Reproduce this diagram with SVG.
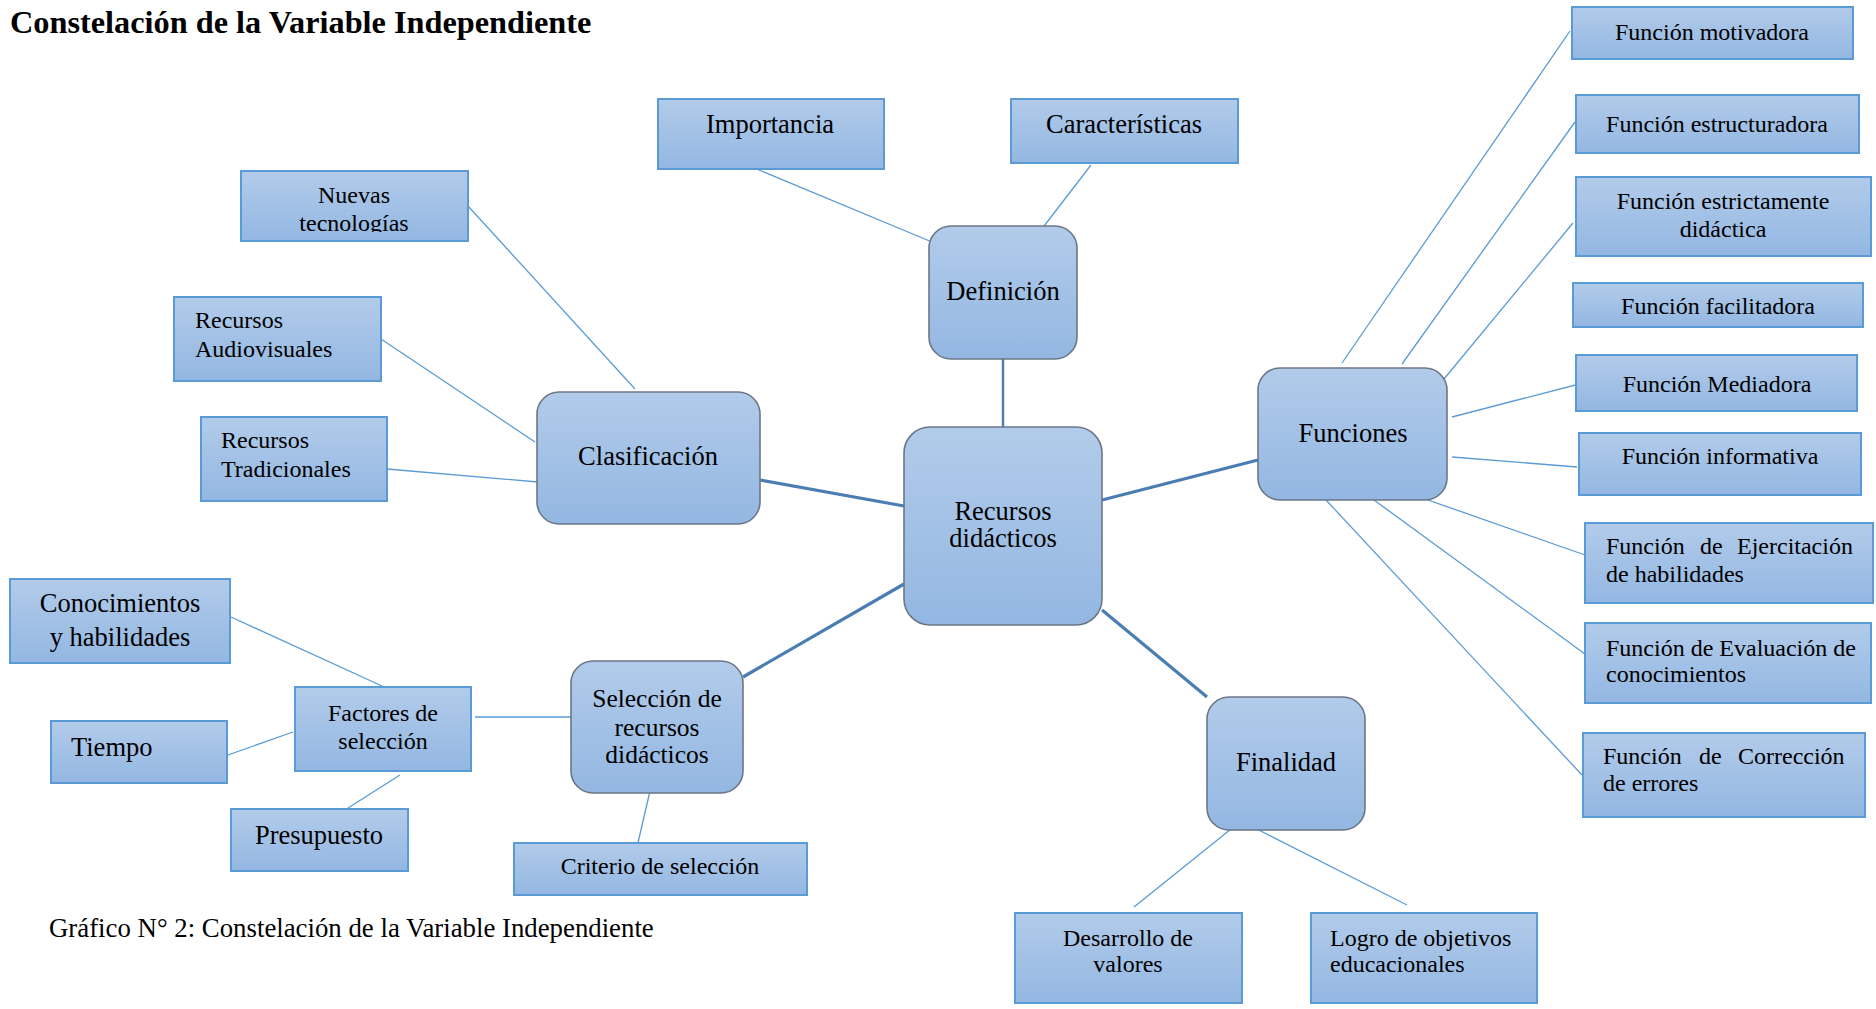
<svg xmlns="http://www.w3.org/2000/svg" width="1876" height="1009" viewBox="0 0 1876 1009">
<defs>
<linearGradient id="gb" x1="0" y1="0" x2="0" y2="1">
<stop offset="0" stop-color="#b2cbea"/>
<stop offset="1" stop-color="#93b7e2"/>
</linearGradient>
<clipPath id="clipNT"><rect x="241" y="171" width="227" height="61"/></clipPath>
</defs>
<style>
.box{fill:url(#gb);stroke:#5b9bd5;stroke-width:2}
.rbox{fill:url(#gb);stroke:#6b7787;stroke-width:1.6}
.t{font-family:"Liberation Serif","Times New Roman",serif;fill:#000}
.c{text-anchor:middle}
.s24{font-size:24px}
.s26{font-size:26.5px}
.s25{font-size:25.5px}
.thin{stroke:#5b9bd5;stroke-width:1.3;fill:none}
.thick{stroke:#4a7db2;stroke-width:3.2;fill:none}
.mid{stroke:#4a7db2;stroke-width:2.4;fill:none}
</style>
<rect width="1876" height="1009" fill="#fff"/>
<text class="t" x="10" y="33" font-size="32.3" font-weight="bold">Constelación de la Variable Independiente</text>

<g id="connectors">
<line class="thin" x1="754" y1="168" x2="932" y2="242"/>
<line class="thin" x1="1091" y1="165" x2="1041" y2="230"/>
<line class="mid" x1="1003" y1="359" x2="1003" y2="427"/>
<line class="thin" x1="468" y1="206" x2="635" y2="389"/>
<line class="thin" x1="381" y1="339" x2="535" y2="442"/>
<line class="thin" x1="387" y1="469" x2="538" y2="482"/>
<line class="thick" x1="760" y1="480" x2="904" y2="506"/>
<line class="thick" x1="1102" y1="500" x2="1258" y2="460"/>
<line class="thin" x1="1570" y1="31" x2="1342" y2="363"/>
<line class="thin" x1="1575" y1="122" x2="1402" y2="364"/>
<line class="thin" x1="1573" y1="223" x2="1444" y2="379"/>
<line class="thin" x1="1452" y1="417" x2="1583" y2="383"/>
<line class="thin" x1="1452" y1="457" x2="1577" y2="467"/>
<line class="thin" x1="1408" y1="493" x2="1585" y2="555"/>
<line class="thin" x1="1374" y1="500" x2="1585" y2="654"/>
<line class="thin" x1="1326" y1="500" x2="1582" y2="775"/>
<line class="thick" x1="1102" y1="610" x2="1207" y2="697"/>
<line class="thin" x1="1236" y1="825" x2="1134" y2="907"/>
<line class="thin" x1="1245" y1="823" x2="1407" y2="905"/>
<line class="thick" x1="743" y1="677" x2="904" y2="584"/>
<line class="thin" x1="650" y1="791" x2="637" y2="847"/>
<line class="thin" x1="475" y1="717" x2="574" y2="717"/>
<line class="thin" x1="231" y1="617" x2="382" y2="686"/>
<line class="thin" x1="228" y1="755" x2="293" y2="732"/>
<line class="thin" x1="400" y1="775" x2="348" y2="808"/>
</g>

<g id="recursos">
<rect class="rbox" x="904" y="427" width="198" height="198" rx="26"/>
<text class="t c s26" x="1003" y="520">Recursos</text>
<text class="t c s26" x="1003" y="547">didácticos</text>
</g>
<g id="definicion">
<rect class="rbox" x="929" y="226" width="148" height="133" rx="22"/>
<text class="t c s26" x="1003" y="300">Definición</text>
</g>
<g id="clasificacion">
<rect class="rbox" x="537" y="392" width="223" height="132" rx="22"/>
<text class="t c s26" x="648" y="465">Clasificación</text>
</g>
<g id="funciones">
<rect class="rbox" x="1258" y="368" width="189" height="132" rx="22"/>
<text class="t c s26" x="1353" y="442">Funciones</text>
</g>
<g id="finalidad">
<rect class="rbox" x="1207" y="697" width="158" height="133" rx="22"/>
<text class="t c s26" x="1286" y="771">Finalidad</text>
</g>
<g id="seleccion">
<rect class="rbox" x="571" y="661" width="172" height="132" rx="22"/>
<text class="t c s25" x="657" y="707">Selección de</text>
<text class="t c s25" x="657" y="736">recursos</text>
<text class="t c s25" x="657" y="763">didácticos</text>
</g>

<g id="importancia">
<rect class="box" x="658" y="99" width="226" height="70"/>
<text class="t c s26" x="770" y="133">Importancia</text>
</g>
<g id="caracteristicas">
<rect class="box" x="1011" y="99" width="227" height="64"/>
<text class="t c s26" x="1124" y="133">Características</text>
</g>
<g id="nuevas">
<rect class="box" x="241" y="171" width="227" height="70"/>
<text class="t c s24" x="354" y="203">Nuevas</text>
<text class="t c s24" x="354" y="231" clip-path="url(#clipNT)">tecnologías</text>
</g>
<g id="audiovisuales">
<rect class="box" x="174" y="297" width="207" height="84"/>
<text class="t s24" x="195" y="328">Recursos</text>
<text class="t s24" x="195" y="357">Audiovisuales</text>
</g>
<g id="tradicionales">
<rect class="box" x="201" y="417" width="186" height="84"/>
<text class="t s24" x="221" y="448">Recursos</text>
<text class="t s24" x="221" y="477">Tradicionales</text>
</g>
<g id="conocimientos">
<rect class="box" x="10" y="579" width="220" height="84"/>
<text class="t c s26" x="120" y="612">Conocimientos</text>
<text class="t c s26" x="120" y="646">y habilidades</text>
</g>
<g id="factores">
<rect class="box" x="295" y="687" width="176" height="84"/>
<text class="t c s24" x="383" y="721">Factores de</text>
<text class="t c s24" x="383" y="749">selección</text>
</g>
<g id="tiempo">
<rect class="box" x="51" y="721" width="176" height="62"/>
<text class="t s26" x="71" y="756">Tiempo</text>
</g>
<g id="presupuesto">
<rect class="box" x="231" y="809" width="177" height="62"/>
<text class="t c s26" x="319" y="844">Presupuesto</text>
</g>
<g id="criterio">
<rect class="box" x="514" y="843" width="293" height="52"/>
<text class="t c s24" x="660" y="874">Criterio de selección</text>
</g>

<g id="f-motivadora">
<rect class="box" x="1572" y="7" width="281" height="52"/>
<text class="t c s24" x="1712" y="40">Función motivadora</text>
</g>
<g id="f-estructuradora">
<rect class="box" x="1576" y="95" width="283" height="58"/>
<text class="t c s24" x="1717" y="132">Función estructuradora</text>
</g>
<g id="f-estrictamente">
<rect class="box" x="1576" y="177" width="295" height="79"/>
<text class="t c s24" x="1723" y="209">Función estrictamente</text>
<text class="t c s24" x="1723" y="237">didáctica</text>
</g>
<g id="f-facilitadora">
<rect class="box" x="1573" y="283" width="290" height="44"/>
<text class="t c s24" x="1718" y="314">Función facilitadora</text>
</g>
<g id="f-mediadora">
<rect class="box" x="1576" y="355" width="281" height="56"/>
<text class="t c s24" x="1717" y="392">Función Mediadora</text>
</g>
<g id="f-informativa">
<rect class="box" x="1579" y="433" width="282" height="62"/>
<text class="t c s24" x="1720" y="464">Función informativa</text>
</g>
<g id="f-ejercitacion">
<rect class="box" x="1585" y="523" width="288" height="80"/>
<text class="t s24" y="554"><tspan x="1606">Función</tspan><tspan x="1700">de</tspan><tspan x="1737">Ejercitación</tspan></text>
<text class="t s24" x="1606" y="582">de habilidades</text>
</g>
<g id="f-evaluacion">
<rect class="box" x="1585" y="623" width="286" height="80"/>
<text class="t s24" x="1606" y="656">Función de Evaluación de</text>
<text class="t s24" x="1606" y="682">conocimientos</text>
</g>
<g id="f-correccion">
<rect class="box" x="1583" y="733" width="282" height="84"/>
<text class="t s24" y="764"><tspan x="1603">Función</tspan><tspan x="1699">de</tspan><tspan x="1738">Corrección</tspan></text>
<text class="t s24" x="1603" y="791">de errores</text>
</g>
<g id="desarrollo">
<rect class="box" x="1015" y="913" width="227" height="90"/>
<text class="t c s24" x="1128" y="946">Desarrollo de</text>
<text class="t c s24" x="1128" y="972">valores</text>
</g>
<g id="logro">
<rect class="box" x="1311" y="913" width="226" height="90"/>
<text class="t s24" x="1330" y="946">Logro de objetivos</text>
<text class="t s24" x="1330" y="972">educacionales</text>
</g>

<text class="t" font-size="26.8" x="49" y="937">Gráfico N° 2: Constelación de la Variable Independiente</text>
</svg>
